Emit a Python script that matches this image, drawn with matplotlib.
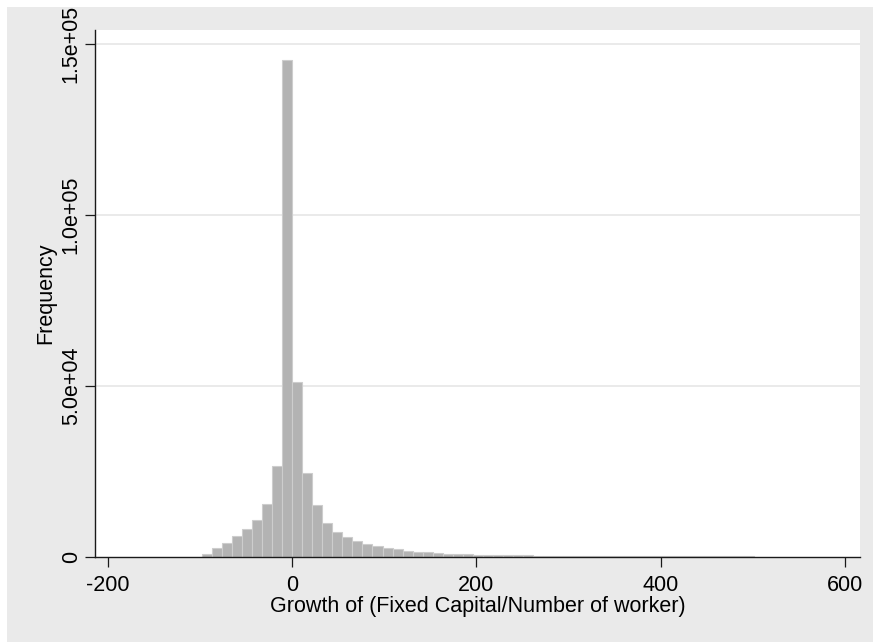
import matplotlib
matplotlib.use("Agg")
import matplotlib.pyplot as plt
from matplotlib.patches import Rectangle
from matplotlib.transforms import Bbox, TransformedBbox
import numpy as np

plt.rcParams['font.family'] = ['Liberation Sans', 'DejaVu Sans']

# Histogram of growth values: bins start at -98, width 10.9 (55 bins)
bin_start = -98.0
bin_width = 10.9
frequencies = [
    900, 2800, 4300, 6200, 8200, 10800, 15500, 26800, 145200,
    51300, 24500, 15200, 10100, 7500, 5900, 4800, 3800, 3200, 2800, 2300,
    1950, 1650, 1450, 1250, 1100, 980, 880, 790, 720, 660,
    600, 560, 530, 500, 480, 460, 440, 420, 410, 400,
    390, 380, 370, 360, 350, 340, 330, 320, 315, 310,
    305, 300, 295, 290, 285,
]
x_ticks = [-200, 0, 200, 400, 600]
y_ticks = [0, 50000, 100000, 150000]
y_tick_labels = ["0", "5.0e+04", "1.0e+05", "1.5e+05"]
x_label = "Growth of (Fixed Capital/Number of worker)"
y_label = "Frequency"

W, H = 873, 642
fig = plt.figure(figsize=(W / 100, H / 100), dpi=100, facecolor='white')

# gray graph region
bg = Rectangle((7 / W, 0), 1 - 7 / W, 1 - 7 / H, transform=fig.transFigure,
               facecolor='#eaeaea', edgecolor='none', zorder=-10)
fig.patches.append(bg)

ax = fig.add_axes([95 / W, (H - 557.3) / H, (860 - 95) / W, (557.3 - 30) / H])
ax.set_facecolor('white')

edges = bin_start + bin_width * np.arange(len(frequencies))
ax.bar(edges, frequencies, width=bin_width, align='edge',
       color='#b3b3b3', edgecolor='#cdcdcd', linewidth=0.8, zorder=3)

ax.set_xlim(-213.8, 616.3)
ax.set_ylim(0, 154100)

ax.set_xticks(x_ticks)
ax.set_xticklabels([str(v) for v in x_ticks])
ax.set_yticks(y_ticks)
ax.set_yticklabels(y_tick_labels, rotation=90, va='center')

for v in y_ticks[1:]:
    ax.axhline(v, color='#eaeaea', linewidth=1.4, zorder=1)

for s in ['top', 'right']:
    ax.spines[s].set_visible(False)
for s in ['left', 'bottom']:
    ax.spines[s].set_color('#1a1a1a')
    ax.spines[s].set_linewidth(1.0)
    ax.spines[s].set_zorder(4)

fs = 15.5
ax.tick_params(axis='both', direction='out', length=7, width=0.9,
               color='#1a1a1a', labelsize=fs, labelcolor='black')
ax.tick_params(axis='x', pad=6)
ax.tick_params(axis='y', pad=2.5)

ax.set_xlabel(x_label, fontsize=fs, labelpad=0)
ax.set_ylabel(y_label, fontsize=fs, labelpad=3)

clip = TransformedBbox(Bbox([[7 / W, 0], [1, 1 - 7 / H]]), fig.transFigure)
for lab in ax.get_yticklabels():
    lab.set_clip_box(clip)
    lab.set_clip_on(True)

fig.savefig('out.png', dpi=100, facecolor='white')
